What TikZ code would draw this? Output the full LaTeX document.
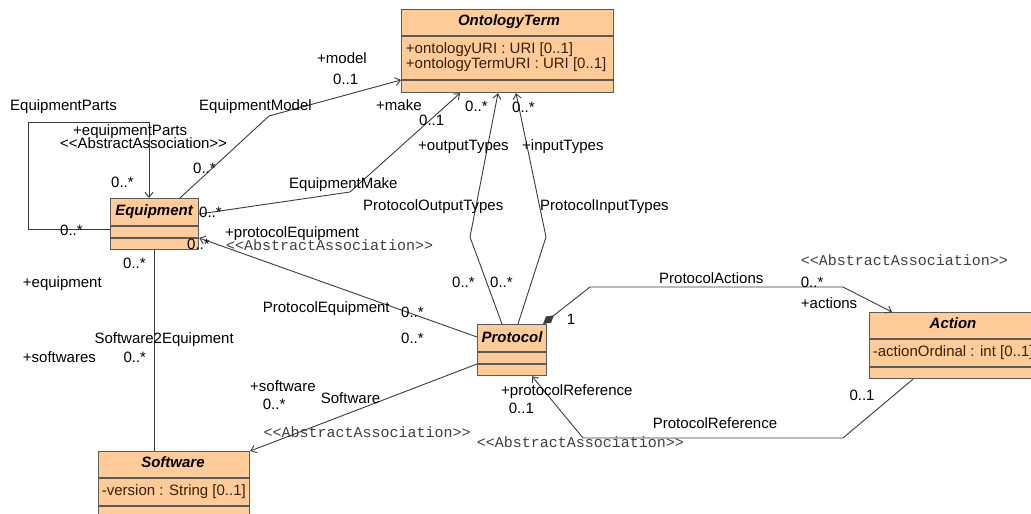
\documentclass[tikz,border=0pt]{standalone}
\usepackage{fontspec}
\setmainfont{Liberation Sans}
\setmonofont{Liberation Mono}
\usetikzlibrary{arrows.meta}
\definecolor{boxfill}{RGB}{255,204,153}
\definecolor{boxline}{RGB}{90,90,90}
\definecolor{conn}{RGB}{60,60,60}
\definecolor{attrtext}{RGB}{60,30,5}
\tikzset{
  umlbox/.style={draw=boxline, fill=boxfill, line width=1.2pt, inner sep=0pt, anchor=north west},
  sepline/.style={draw=boxline, line width=1.2pt},
  assoc/.style={draw=conn, line width=0.9pt},
  navarrow/.style={-{Straight Barb[length=5pt,width=8pt,line width=0.9pt]}},
  lbl/.style={anchor=base west, inner sep=0pt},
  title/.style={anchor=base, inner sep=0pt, font=\fontsize{15}{15}\selectfont\bfseries\itshape},
  attr/.style={anchor=base west, inner sep=0pt, text=attrtext},
  stereo/.style={anchor=base west, inner sep=0pt, font=\fontsize{15}{15}\selectfont\ttfamily, text=black!75}
}
\begin{document}
\begin{tikzpicture}[x=1pt,y=-1pt,font=\fontsize{15}{15}\selectfont]
\useasboundingbox (0,0) rectangle (1031,514);
\clip (0,0) rectangle (1031,514);
\fill[white] (0,0) rectangle (1031,514);

% boxes
\node[umlbox, minimum width=212pt, minimum height=83pt] (ot) at (401,9) {};
\draw[sepline] (ot.west |- 0,36) -- (ot.east |- 0,36);
\draw[sepline] (ot.west |- 0,80) -- (ot.east |- 0,80);
\node[title] (otT) at (509,25) {OntologyTerm};
\node[attr] (otA1) at (405.7,53.3) {+ontologyURI : URI [0..1]};
\node[attr] (otA2) at (405.7,68.3) {+ontologyTermURI : URI [0..1]};

\node[umlbox, minimum width=88pt, minimum height=51pt] (eq) at (110,198) {};
\draw[sepline] (eq.west |- 0,226) -- (eq.east |- 0,226);
\draw[sepline] (eq.west |- 0,238) -- (eq.east |- 0,238);
\node[title] (eqT) at (154,215) {Equipment};

\node[umlbox, minimum width=151pt, minimum height=69pt] (sw) at (98,451) {};
\draw[sepline] (sw.west |- 0,478) -- (sw.east |- 0,478);
\draw[sepline] (sw.west |- 0,506) -- (sw.east |- 0,506);
\node[title] (swT) at (173,467) {Software};
\node[attr] (swA) at (101.7,495) {-version : String [0..1]};

\node[umlbox, minimum width=69pt, minimum height=51pt] (pr) at (477,324) {};
\draw[sepline] (pr.west |- 0,352) -- (pr.east |- 0,352);
\draw[sepline] (pr.west |- 0,364) -- (pr.east |- 0,364);
\node[title] (prT) at (512,342) {Protocol};

\node[umlbox, minimum width=168pt, minimum height=66pt] (ac) at (869,312) {};
\draw[sepline] (ac.west |- 0,339) -- (ac.east |- 0,339);
\draw[sepline] (ac.west |- 0,367) -- (ac.east |- 0,367);
\node[title] (acT) at (953,328) {Action};
\node[attr] (acA) at (872.7,356) {-actionOrdinal : int [0..1]};

% connectors
\draw[assoc,navarrow] (eq.west |- 0,229) -- (28,229) -- (28,122) -- (149,122) -- (eq.north -| 149,0);
\draw[assoc,navarrow] (eq.north -| 180,0) -- (269,116) -- (ot.west |- 0,80);
\draw[assoc,navarrow] (eq.east |- 0,214) -- (350,192) -- (ot.south -| 460,0);
\draw[assoc,navarrow] (pr.north -| 502,0) -- (470,237) -- (ot.south -| 498,0);
\draw[assoc,navarrow] (pr.north -| 518,0) -- (546,237) -- (ot.south -| 516,0);
\draw[assoc,navarrow] (pr.west |- 0,337) -- (eq.east |- 0,238);
\draw[assoc] (eq.south -| 154,0) -- (sw.north -| 154,0);
\draw[assoc,navarrow] (pr.west |- 0,364) -- (sw.north east);
\draw[assoc,{Diamond[length=14pt,width=8pt,fill=conn]}-{Straight Barb[length=5pt,width=8pt,line width=0.9pt]}] (pr.north -| 543,0) -- (590,287) -- (843,287) -- (ac.north -| 892,0);
\draw[assoc,navarrow] (ac.south -| 913,0) -- (843,438) -- (583,438) -- (pr.south -| 532,0);

% labels
\node[lbl] (l1) at (10,110) {EquipmentParts};
\node[lbl] (l2) at (73,135) {+equipmentParts};
\node[lbl] (l3) at (60,148.5) {{<}{<}AbstractAssociation{>}{>}};
\node[lbl] (l4) at (111,187) {0..*};
\node[lbl] (l5) at (60,235) {0..*};
\node[lbl] (l6) at (199,110.5) {EquipmentModel};
\node[lbl] (l7) at (193,173.5) {0..*};
\node[lbl] (l8) at (317,63.5) {+model};
\node[lbl] (l9) at (333,84) {0..1};
\node[lbl] (l10) at (289,188.5) {EquipmentMake};
\node[lbl] (l11) at (199,217) {0..*};
\node[lbl] (l12) at (376,110) {+make};
\node[lbl] (l13) at (419,125) {0..1};
\node[lbl] (l14) at (465,111) {0..*};
\node[lbl] (l15) at (512,112.5) {0..*};
\node[lbl] (l16) at (418,150.7) {+outputTypes};
\node[lbl] (l17) at (522,150.7) {+inputTypes};
\node[lbl] (l18) at (363,210.7) {ProtocolOutputTypes};
\node[lbl] (l19) at (540,210.7) {ProtocolInputTypes};
\node[lbl] (l20) at (452,287) {0..*};
\node[lbl] (l21) at (490,287) {0..*};
\node[lbl] (l22) at (225,237) {+protocolEquipment};
\node[stereo] (l23) at (226,250) {<<AbstractAssociation>>};
\node[lbl] (l24) at (187,249.5) {0..*};
\node[lbl] (l25) at (262.7,312) {ProtocolEquipment};
\node[lbl] (l26) at (401,317) {0..*};
\node[lbl] (l27) at (401,343) {0..*};
\node[lbl] (l28) at (123,268.5) {0..*};
\node[lbl] (l29) at (22.7,287.5) {+equipment};
\node[lbl] (l30) at (94.3,343.5) {Software2Equipment};
\node[lbl] (l31) at (22.7,362.5) {+softwares};
\node[lbl] (l32) at (123.3,362.5) {0..*};
\node[lbl] (l33) at (250,391) {+software};
\node[lbl] (l34) at (262.7,409) {0..*};
\node[lbl] (l35) at (320.7,403) {Software};
\node[stereo] (l36) at (263.3,437.5) {<<AbstractAssociation>>};
\node[lbl] (l37) at (566.7,324) {1};
\node[lbl] (l38) at (501,395) {+protocolReference};
\node[lbl] (l39) at (508.7,413.5) {0..1};
\node[stereo] (l40) at (476.7,447) {<<AbstractAssociation>>};
\node[lbl] (l41) at (652.7,428.5) {ProtocolReference};
\node[lbl] (l42) at (659,283) {ProtocolActions};
\node[stereo] (l43) at (800.7,265) {<<AbstractAssociation>>};
\node[lbl] (l44) at (800.7,287) {0..*};
\node[lbl] (l45) at (800.7,308) {+actions};
\node[lbl] (l46) at (849.3,400) {0..1};
\end{tikzpicture}
\end{document}
